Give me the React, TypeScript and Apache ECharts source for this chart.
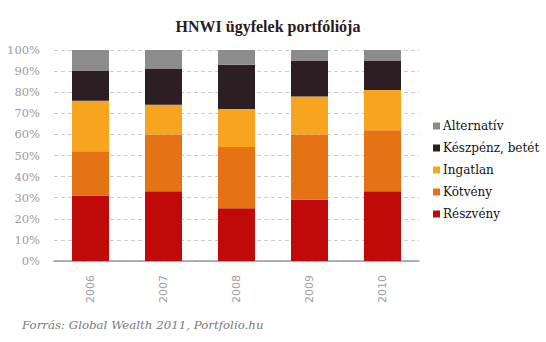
import React, { useEffect, useRef } from "react";
import * as echarts from "echarts";

const categories = ["2006", "2007", "2008", "2009", "2010"];
const reszveny = [31, 33, 25, 29, 33];
const kotveny = [21, 27, 29, 31, 29];
const ingatlan = [24, 14, 18, 18, 19];
const keszpenz = [14, 17, 21, 17, 14];
const alternativ = [10, 9, 7, 5, 5];
const yTicks = [0, 10, 20, 30, 40, 50, 60, 70, 80, 90, 100];

const seriesDefs = [
  { name: "Részvény", data: reszveny, color: "#C00A0A" },
  { name: "Kötvény", data: kotveny, color: "#E57214" },
  { name: "Ingatlan", data: ingatlan, color: "#F7A51E" },
  { name: "Készpénz, betét", data: keszpenz, color: "#2D1E24" },
  { name: "Alternatív", data: alternativ, color: "#8C8C8C" },
];

const SERIF = "'DejaVu Serif', serif";

export default function App() {
  const ref = useRef<HTMLDivElement>(null);
  useEffect(() => {
    if (!ref.current) return;
    const chart = echarts.init(ref.current, undefined, { renderer: "svg" });
    chart.setOption({
      animation: false,
      backgroundColor: "#ffffff",
      title: {
        text: "HNWI ügyfelek portfóliója",
        left: 263,
        textAlign: "center",
        top: 13,
        textStyle: {
          fontFamily: "'Liberation Serif', serif",
          fontWeight: "bold",
          fontSize: 16,
          color: "#2a1a1e",
        },
      },
      legend: {
        orient: "vertical",
        left: 428,
        top: 115,
        itemWidth: 7,
        itemHeight: 7,
        itemGap: 10,
        icon: "rect",
        data: [...seriesDefs].reverse().map((s) => s.name),
        textStyle: {
          fontFamily: SERIF,
          fontSize: 12,
          color: "#111",
          padding: [0, 0, 0, -2],
        },
      },
      grid: { left: 54, right: 127, top: 50, bottom: 81 },
      xAxis: {
        type: "category",
        data: categories,
        axisLine: { lineStyle: { color: "#999", width: 1.5 } },
        axisTick: { show: false },
        axisLabel: {
          rotate: 90,
          margin: 14,
          color: "#a0a0a0",
          fontFamily: "'DejaVu Sans', sans-serif",
          fontSize: 11,
        },
      },
      yAxis: {
        type: "value",
        min: 0,
        max: 100,
        interval: 10,
        axisLine: { show: false },
        axisTick: { show: false },
        splitLine: { lineStyle: { color: "#cccccc", type: [4, 3] } },
        axisLabel: {
          margin: 14,
          color: "#a09aa0",
          fontFamily: SERIF,
          fontSize: 11.5,
          formatter: (v: number) => (yTicks.includes(v) ? v + "%" : ""),
        },
      },
      series: seriesDefs.map((s) => ({
        name: s.name,
        type: "bar",
        stack: "total",
        barWidth: 37,
        data: s.data,
        itemStyle: { color: s.color },
      })),
      graphic: [
        {
          type: "text",
          left: 22,
          top: 319,
          style: {
            text: "Forrás: Global Wealth 2011, Portfolio.hu",
            fontFamily: SERIF,
            fontStyle: "italic",
            fontSize: 11.8,
            fill: "#7a7a7a",
          },
        },
      ],
    });
    return () => chart.dispose();
  }, []);
  return (
    <div
      ref={ref}
      style={{ position: "fixed", left: 0, top: 0, width: 546, height: 342 }}
    />
  );
}
